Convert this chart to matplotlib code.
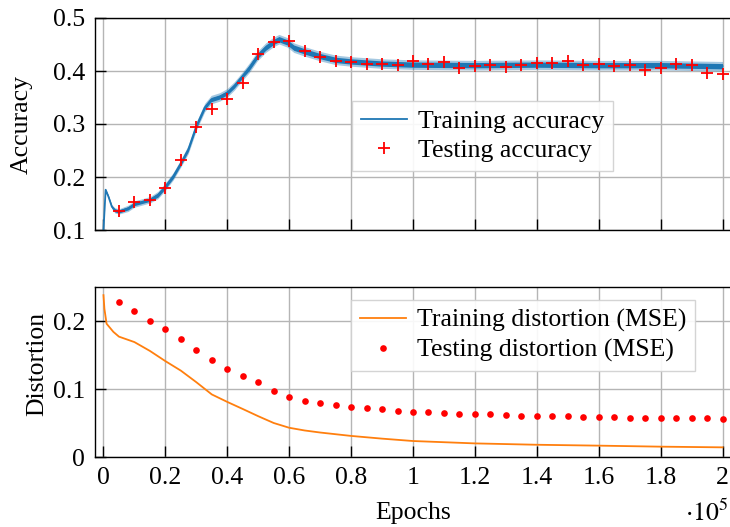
import numpy as np
import matplotlib
matplotlib.use("Agg")
from matplotlib import pyplot as plt
from matplotlib.ticker import FuncFormatter

plt.rcParams["font.family"] = ["Liberation Serif", "DejaVu Serif"]
plt.rcParams["mathtext.fontset"] = "stix"
plt.rcParams["font.size"] = 18.5

# training accuracy (centre of the noisy curve)
acc_epochs = [0, 700, 1600, 2700, 3700, 5000, 8000, 10000, 15000, 17600, 20000,
              22500, 25000, 27400, 30000, 32700, 34800, 37500, 40000, 42300,
              45000, 47100, 49700, 52400, 55000, 56700, 59400, 61500, 65000,
              70000, 75000, 80000, 90000, 100000, 120000, 140000, 160000,
              180000, 200000]
train_acc = [0.100, 0.176, 0.163, 0.144, 0.137, 0.135, 0.141, 0.149, 0.157,
             0.166, 0.182, 0.201, 0.226, 0.252, 0.296, 0.331, 0.346, 0.351,
             0.359, 0.372, 0.391, 0.406, 0.428, 0.444, 0.455, 0.460, 0.454,
             0.444, 0.437, 0.428, 0.421, 0.418, 0.414, 0.412, 0.411, 0.412,
             0.411, 0.411, 0.409]
# half width of the noise band (dense core / faint outer fringe)
acc_core = [0.0, 0.001, 0.002, 0.002, 0.003, 0.003, 0.003, 0.003, 0.003,
            0.004, 0.004, 0.004, 0.004, 0.004, 0.004, 0.004, 0.004, 0.004,
            0.004, 0.004, 0.004, 0.005, 0.005, 0.005, 0.005, 0.005, 0.005,
            0.005, 0.005, 0.005, 0.005, 0.005, 0.005, 0.005, 0.005, 0.005,
            0.005, 0.005, 0.005]
acc_fringe = [0.0, 0.002, 0.003, 0.004, 0.005, 0.005, 0.006, 0.006, 0.006,
              0.007, 0.007, 0.007, 0.007, 0.008, 0.008, 0.008, 0.008, 0.008,
              0.008, 0.008, 0.008, 0.009, 0.009, 0.009, 0.009, 0.009, 0.009,
              0.009, 0.009, 0.009, 0.009, 0.009, 0.009, 0.009, 0.009, 0.009,
              0.009, 0.009, 0.009]

# testing accuracy every 5000 epochs
test_epochs = list(range(5000, 200001, 5000))
test_acc = [0.135, 0.153, 0.157, 0.180, 0.232, 0.295, 0.329, 0.347, 0.378,
            0.433, 0.455, 0.456, 0.437, 0.426, 0.419, 0.417, 0.414, 0.414,
            0.412, 0.418, 0.413, 0.417, 0.4055, 0.409, 0.412, 0.407, 0.412,
            0.416, 0.415, 0.419, 0.412, 0.413, 0.409, 0.411, 0.402, 0.406,
            0.413, 0.411, 0.397, 0.395]

# training distortion
dist_epochs = [0, 300, 1000, 3200, 5000, 10000, 15000, 20000, 25000, 30000,
               35000, 40000, 45000, 50000, 55000, 60000, 65000, 70000, 80000,
               90000, 100000, 120000, 140000, 160000, 180000, 200000]
train_dist = [0.238, 0.218, 0.196, 0.184, 0.177, 0.169, 0.156, 0.141, 0.127,
              0.110, 0.092, 0.081, 0.0706, 0.060, 0.050, 0.043, 0.039, 0.036,
              0.031, 0.027, 0.0235, 0.020, 0.018, 0.0167, 0.0152, 0.0142]

# testing distortion every 5000 epochs
test_dist = [0.228, 0.214, 0.200, 0.188, 0.1735, 0.158, 0.142, 0.129, 0.119,
             0.110, 0.097, 0.088, 0.083, 0.079, 0.0765, 0.073, 0.0716, 0.070,
             0.0676, 0.0665, 0.0657, 0.0647, 0.0632, 0.0632, 0.0627, 0.0618,
             0.0608, 0.0608, 0.0598, 0.0598, 0.0588, 0.0588, 0.0583, 0.0578,
             0.0578, 0.0578, 0.0574, 0.0569, 0.0569, 0.0564]

x_ticks = np.arange(0, 200001, 20000)

blue = "#1f77b4"
orange = "#ff7f0e"

fig = plt.figure(figsize=(7.3, 5.27), dpi=100)
W, H = 730.0, 527.0
ax1 = fig.add_axes([94.5 / W, 1 - 230 / H, 637 / W, 212 / H])
ax2 = fig.add_axes([94.5 / W, 1 - 457 / H, 637 / W, 170 / H])

acc = np.array(train_acc)
ax1.fill_between(acc_epochs, acc - np.array(acc_fringe), acc + np.array(acc_fringe),
                 color=blue, alpha=0.4, lw=0)
ax1.fill_between(acc_epochs, acc - np.array(acc_core), acc + np.array(acc_core),
                 color=blue, lw=0)
ax1.plot(acc_epochs, train_acc, color=blue, lw=1.3, label="Training accuracy")
ax1.plot(test_epochs, test_acc, "+", color="red", ms=8.5, mew=1.3,
         label="Testing accuracy")

ax2.plot(dist_epochs, train_dist, color=orange, lw=1.3,
         label="Training distortion (MSE)")
ax2.plot(test_epochs, test_dist, "o", color="red", ms=4.8, mew=0,
         label="Testing distortion (MSE)")

for ax in (ax1, ax2):
    ax.set_xlim(-2900, 202900)
    ax.set_xticks(x_ticks)
    ax.grid(True, color="#b5b5b5", lw=1.0)
    ax.set_axisbelow(True)
    ax.tick_params(direction="in", length=8, width=1, color="black",
                   top=False, right=False, pad=7)
    for side in ("left", "bottom", "top"):
        ax.spines[side].set_linewidth(1.0)
    ax.spines["right"].set_visible(False)

ax1.set_ylim(0.1, 0.5)
ax1.set_yticks([0.1, 0.2, 0.3, 0.4, 0.5])
ax1.set_xticklabels([])
ax1.set_ylabel("Accuracy")
ax1.yaxis.set_label_coords(-0.097, 0.5)

ax2.set_ylim(0, 0.25)
ax2.set_yticks([0, 0.1, 0.2])
ax2.yaxis.set_major_formatter(FuncFormatter(lambda v, p: "%g" % round(v, 3)))
ax2.xaxis.set_major_formatter(FuncFormatter(lambda v, p: "%g" % round(v / 1e5, 3)))
ax2.set_ylabel("Distortion")
ax2.yaxis.set_label_coords(-0.073, 0.55)
ax2.set_xlabel("Epochs")
ax2.xaxis.set_label_coords(0.5, -0.262)
ax2.text(0.9945, -0.376, r"$\cdot 10^5$", transform=ax2.transAxes,
         ha="right", va="baseline")

leg_kw = dict(loc="upper left", bbox_transform=fig.transFigure, borderaxespad=0,
              fancybox=False, edgecolor="#d0d0d0", framealpha=0.9,
              borderpad=0.35, labelspacing=0.25, handlelength=1.8,
              handletextpad=0.4)
ax1.legend(bbox_to_anchor=(352 / W, 1 - 101 / H), **leg_kw)
ax2.legend(bbox_to_anchor=(351 / W, 1 - 300 / H), **leg_kw)

fig.savefig("out.png", dpi=100)
